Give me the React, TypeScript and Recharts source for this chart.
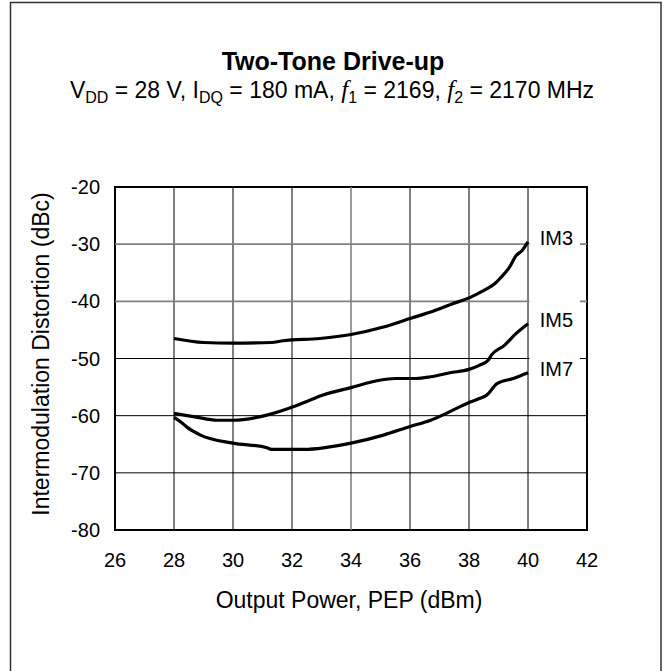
import React from "react";
import {
  LineChart,
  Line,
  XAxis,
  YAxis,
  ReferenceLine,
  ReferenceArea,
  LabelList,
} from "recharts";

// ---- data ----
const X_TICKS = [26, 28, 30, 32, 34, 36, 38, 40, 42];
const Y_TICKS = [-80, -70, -60, -50, -40, -30, -20];
const X_GRID = [28, 30, 32, 34, 36, 38, 40];
const Y_GRID = [-70, -60, -50, -40, -30];

const IM3_X = [28, 29, 30, 31.3, 31.7, 32.95, 34, 35.1, 36, 36.8, 37.4, 38, 38.35, 38.6, 38.9, 39.05, 39.35, 39.6, 39.8, 40];
const IM3_Y = [-46.5, -47.2, -47.3, -47.2, -46.9, -46.5, -45.8, -44.5, -43.0, -41.7, -40.5, -39.4, -38.5, -37.8, -36.8, -36.0, -34.2, -32.0, -31.1, -29.6];

const IM5_X = [28, 28.7, 29.47, 30, 30.9, 31.9, 32.6, 33.05, 34, 34.96, 35.5, 36.2, 36.7, 37.35, 38, 38.35, 38.65, 38.76, 39.2, 39.6, 40];
const IM5_Y = [-59.6, -60.2, -60.8, -60.8, -60.2, -58.7, -57.3, -56.4, -55.1, -53.8, -53.5, -53.5, -53.2, -52.5, -51.9, -51.2, -50.3, -49.4, -47.7, -45.6, -43.9];

const IM7_X = [28, 28.23, 28.45, 28.9, 30, 31.15, 31.3, 32.4, 34, 35.1, 36, 36.7, 37.35, 38, 38.35, 38.6, 38.95, 39.5, 40];
const IM7_Y = [-60.3, -61.1, -62.05, -63.4, -64.8, -65.6, -65.9, -65.9, -64.8, -63.4, -61.9, -60.8, -59.3, -57.7, -57.0, -56.4, -54.4, -53.5, -52.5];

const SERIES_NAMES = ["IM3", "IM5", "IM7"];

// ---- styling ----
const FONT = "'Liberation Sans', Arial, Helvetica, sans-serif";
const GRAY_X = [34];
const GRAY_Y = [-30, -40];

const toPoints = (xs: number[], ys: number[]) => xs.map((x, i) => ({ x, y: ys[i] }));
const SERIES = [
  toPoints(IM3_X, IM3_Y),
  toPoints(IM5_X, IM5_Y),
  toPoints(IM7_X, IM7_Y),
];

const makeEndLabel = (name: string, count: number) => (props: any) => {
  const { x, y, index } = props;
  if (index !== count - 1 || x == null || y == null) return null;
  return (
    <g>
      <rect x={x + 1.5} y={y - 24} width={50.5} height={34} fill="#fff" />
      <text x={x + 11.7} y={y + 3} fontSize={20} fill="#000" fontFamily={FONT}>
        {name}
      </text>
    </g>
  );
};

export default function App() {
  const W = 664;
  const H = 671;
  return (
    <div style={{ position: "absolute", left: 0, top: 0, width: W, height: H, background: "#fff" }}>
      <LineChart
        width={W}
        height={H}
        margin={{ top: 187, right: 77, left: 0, bottom: 0 }}
      >
        <XAxis
          type="number"
          dataKey="x"
          domain={[26, 42]}
          ticks={X_TICKS}
          interval={0}
          axisLine={false}
          tickLine={false}
          tickSize={8}
          tickMargin={14.5}
          height={141}
          tick={{ fill: "#000", fontSize: 20, fontFamily: FONT }}
          allowDataOverflow
        />
        <YAxis
          type="number"
          domain={[-80, -20]}
          ticks={Y_TICKS}
          interval={0}
          axisLine={false}
          tickLine={false}
          tickSize={8}
          tickMargin={7}
          width={115}
          tick={{ fill: "#000", fontSize: 20, fontFamily: FONT }}
          allowDataOverflow
        />
        {X_GRID.map((v) => (
          <ReferenceLine
            key={"vx" + v}
            x={v}
            stroke={GRAY_X.includes(v) ? "#808080" : "#000"}
            strokeWidth={GRAY_X.includes(v) ? 1.6 : 1}
          />
        ))}
        {Y_GRID.map((v) => (
          <ReferenceLine
            key={"hy" + v}
            y={v}
            stroke={GRAY_Y.includes(v) ? "#808080" : "#000"}
            strokeWidth={GRAY_Y.includes(v) ? 1.6 : 1}
          />
        ))}
        <ReferenceArea
          x1={26}
          x2={42}
          y1={-80}
          y2={-20}
          fill="none"
          fillOpacity={0}
          stroke="#000"
          strokeWidth={2}
        />
        {SERIES.map((data, i) => (
          <Line
            key={SERIES_NAMES[i]}
            data={data}
            dataKey="y"
            type="monotone"
            stroke="#000"
            strokeWidth={3.2}
            dot={false}
            activeDot={false}
            isAnimationActive={false}
          >
            <LabelList dataKey="y" content={makeEndLabel(SERIES_NAMES[i], data.length)} />
          </Line>
        ))}
      </LineChart>
      <svg
        width={W}
        height={H}
        style={{ position: "absolute", left: 0, top: 0, pointerEvents: "none" }}
      >
        <rect x={10.5} y={2.5} width={650.5} height={720} fill="none" stroke="#333" strokeWidth={1.5} />
        <text x={333} y={70} textAnchor="middle" fontSize={25} fontWeight="bold" fontFamily={FONT} fill="#000">
          Two-Tone Drive-up
        </text>
        <text x={332} y={97.5} textAnchor="middle" fontSize={23} fontFamily={FONT} fill="#000">
          V
          <tspan fontSize={16} dy={5}>DD</tspan>
          <tspan dy={-5}> = 28 V, I</tspan>
          <tspan fontSize={16} dy={5}>DQ</tspan>
          <tspan dy={-5}> = 180 mA, </tspan>
          <tspan fontFamily="'Liberation Serif', 'Times New Roman', serif" fontStyle="italic" fontSize={25}>f</tspan>
          <tspan fontSize={16} dy={5}>1</tspan>
          <tspan dy={-5}> = 2169, </tspan>
          <tspan fontFamily="'Liberation Serif', 'Times New Roman', serif" fontStyle="italic" fontSize={25}>f</tspan>
          <tspan fontSize={16} dy={5}>2</tspan>
          <tspan dy={-5}> = 2170 MHz</tspan>
        </text>
        <text x={349} y={608} textAnchor="middle" fontSize={23} fontFamily={FONT} fill="#000">
          Output Power, PEP (dBm)
        </text>
        <text
          x={49.3}
          y={354}
          textAnchor="middle"
          fontSize={23}
          fontFamily={FONT}
          fill="#000"
          transform="rotate(-90, 49.3, 354)"
        >
          Intermodulation Distortion (dBc)
        </text>
      </svg>
    </div>
  );
}
